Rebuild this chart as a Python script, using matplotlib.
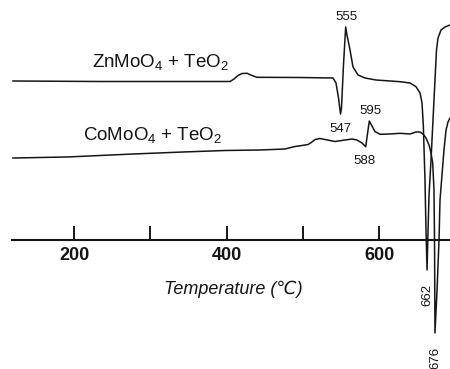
import matplotlib
matplotlib.use("Agg")
import matplotlib.pyplot as plt

plt.rcParams['font.family'] = ['Liberation Sans', 'DejaVu Sans']
plt.rcParams['mathtext.fontset'] = 'custom'
plt.rcParams['mathtext.rm'] = 'Liberation Sans'
plt.rcParams['mathtext.it'] = 'Liberation Sans:italic'
plt.rcParams['mathtext.bf'] = 'Liberation Sans:bold'

# ---- data (temperature in deg C, DTA signal in arbitrary units) ----
zn_temp = [120.0, 234.1, 365.2, 404.6, 409.8, 415.1, 420.3, 426.9, 433.4, 440.0,
           496.4, 539.7, 543.6, 546.9, 549.5, 550.8, 553.4, 556.3, 558.0, 562.0,
           565.9, 572.5, 581.6, 596.1, 627.5, 640.7, 648.5, 653.8, 656.4, 658.1,
           660.3, 661.6, 663.0, 664.3, 665.6, 668.2, 672.1, 675.4, 677.4, 681.3,
           686.6, 693.1]
zn_signal = [159, 158.5, 158.5, 158.5, 161, 164.5, 166.5, 166.7, 164.5, 162.7,
             162.5, 162, 157, 142, 126, 132, 175, 213, 205, 190,
             173, 165, 162, 160, 158.3, 157, 153.3, 147, 137, 115,
             60, 10, -30, 10, 45, 80, 140, 190, 202, 210,
             213, 215]

co_temp = [120.0, 190.8, 277.4, 343.0, 398.0, 443.9, 476.7, 489.8, 499.0, 506.9,
           512.1, 516.1, 522.6, 529.2, 542.3, 555.4, 564.6, 571.1, 577.7, 582.6,
           584.3, 587.3, 590.8, 594.7, 601.3, 614.4, 627.5, 640.7, 648.5, 653.8,
           657.7, 661.6, 665.6, 668.2, 670.4, 672.1, 672.8, 673.4, 676.1, 678.7,
           680.0, 682.6, 685.2, 687.9, 690.5, 693.1]
co_signal = [82, 83, 86, 88, 89.5, 90, 91, 93.5, 94.5, 95.5,
             98, 100.5, 101.5, 100.5, 98.5, 100, 101, 100, 97, 93.3,
             103, 119, 114, 108.5, 105.7, 106, 106.7, 106, 108, 108,
             106, 102, 95, 87, 77, 50, 0, -93, -50, 0,
             40, 65, 90, 110, 118, 122]

tick_values = [200, 300, 400, 500, 600]
tick_labels = ['200', '', '400', '', '600']

series_names = ['ZnMoO$_4$ + TeO$_2$', 'CoMoO$_4$ + TeO$_2$']

peak_labels = ['555', '547', '595', '588', '662', '676']
peak_temp = [557.6, 548.9, 588.2, 580.3, 663.0, 673.4]
peak_y = [223.3, 111, 129, 79, -55, -118]
peak_rot = [0, 0, 0, 0, 90, 90]

# ---- figure ----
fig = plt.figure(figsize=(4.5, 3.69), dpi=100)
ax = fig.add_axes([0, 0, 1, 1])
ax.set_xlim(102.95, 693.1)
ax.set_ylim(-129, 240)

line_color = '#151515'
ax.plot(zn_temp, zn_signal, color=line_color, lw=1.1, solid_joinstyle='round')
ax.plot(co_temp, co_signal, color=line_color, lw=1.1, solid_joinstyle='round')

for s in ['top', 'right', 'left']:
    ax.spines[s].set_visible(False)
ax.spines['bottom'].set_position(('data', 0))
ax.spines['bottom'].set_bounds(119, 693.1)
ax.spines['bottom'].set_linewidth(1.5)
ax.spines['bottom'].set_color(line_color)
ax.set_yticks([])
ax.set_xticks(tick_values)
ax.set_xticklabels(tick_labels, fontweight='bold', fontsize=13)
ax.tick_params(axis='x', direction='in', length=10, width=1.4, pad=5,
               color=line_color, labelcolor=line_color)

ax.text(409.1, -49, 'Temperature (℃)', fontsize=13, style='italic',
        ha='center', va='center', color=line_color)

ax.text(314.1, 178, series_names[0], fontsize=13.5, ha='center', va='center',
        color=line_color)
ax.text(302.9, 105, series_names[1], fontsize=13.5, ha='center', va='center',
        color=line_color)

for lab, t, y, r in zip(peak_labels, peak_temp, peak_y, peak_rot):
    ax.text(t, y, lab, fontsize=9.5, ha='center', va='center', rotation=r,
            color=line_color)

fig.savefig('out.png', dpi=100)
